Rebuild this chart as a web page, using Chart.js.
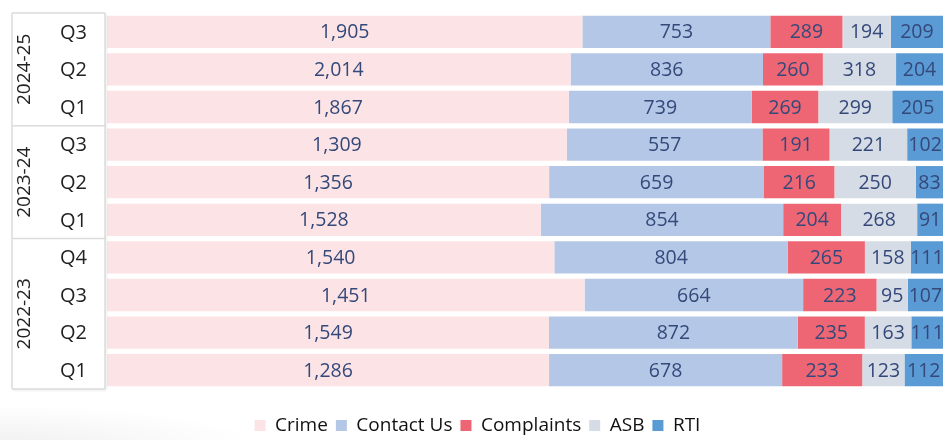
<!DOCTYPE html>
<html>
<head>
<meta charset="utf-8">
<script src="https://cdn.jsdelivr.net/npm/chart.js@4"></script>
<style>
  html, body { margin: 0; padding: 0; background: #fff; }
  #wrap {
    width: 948px; height: 440px; position: relative;
    background: radial-gradient(ellipse 260px 40px at 0px 445px, rgba(0,0,0,0.06), rgba(0,0,0,0) 100%), #fff;
  }
</style>
</head>
<body>
<div id="wrap"><canvas id="myChart"></canvas></div>
<script>
// quarters, top to bottom
const quarters = ['Q3', 'Q2', 'Q1', 'Q3', 'Q2', 'Q1', 'Q4', 'Q3', 'Q2', 'Q1']
const years = ['2024-25', '2023-24', '2022-23']
const yearSizes = [3, 3, 4]

const crime = [1905, 2014, 1867, 1309, 1356, 1528, 1540, 1451, 1549, 1286]
const contactUs = [753, 836, 739, 557, 659, 854, 804, 664, 872, 678]
const complaints = [289, 260, 269, 191, 216, 204, 265, 223, 235, 233]
const asb = [194, 318, 299, 221, 250, 268, 158, 95, 163, 123]
const rti = [209, 204, 205, 102, 83, 91, 111, 107, 111, 112]

const FONT = "'Open Sans', sans-serif"

const series = [
    { label: 'Crime', data: crime, color: '#fce4e6' },
    { label: 'Contact Us', data: contactUs, color: '#b4c7e7' },
    { label: 'Complaints', data: complaints, color: '#ee6673' },
    { label: 'ASB', data: asb, color: '#d6dce5' },
    { label: 'RTI', data: rti, color: '#5b9bd5' }
]

// row totals for the 100% stack
const totals = quarters.map((q, i) => series.reduce((s, d) => s + d.data[i], 0))

// draws the numbers in the middle of each segment
const valueLabels = {
    id: 'valueLabels',
    afterDatasetsDraw(chart) {
        const ctx = chart.ctx
        ctx.save()
        ctx.font = '19.5px ' + FONT
        ctx.fillStyle = '#34497a'
        ctx.textAlign = 'center'
        ctx.textBaseline = 'middle'
        chart.data.datasets.forEach((ds, di) => {
            const meta = chart.getDatasetMeta(di)
            meta.data.forEach((bar, i) => {
                const x = (bar.x + bar.base) / 2
                ctx.fillText(ds.raw[i].toLocaleString('en-GB'), x, bar.y + 1)
            })
        })
        ctx.restore()
    }
}

// box round the axis, quarter and rotated year labels
const yearGroups = {
    id: 'yearGroups',
    beforeInit(chart) {
        // pull the legend box a bit shorter so it sits lower
        const fit = chart.legend.fit
        chart.legend.fit = function () {
            fit.call(this)
            this.height -= 5
        }
    },
    afterDraw(chart) {
        const ctx = chart.ctx
        const y = chart.scales.y
        const area = chart.chartArea
        const left = 12
        const right = area.left - 2
        ctx.save()
        ctx.shadowColor = 'rgba(0,0,0,0.12)'
        ctx.shadowBlur = 3
        ctx.shadowOffsetX = 1
        ctx.shadowOffsetY = 1
        ctx.fillStyle = '#fff'
        ctx.fillRect(left, area.top, right - left, area.bottom - area.top)
        ctx.restore()

        ctx.save()
        ctx.strokeStyle = '#dcdcdc'
        ctx.lineWidth = 1.5
        ctx.beginPath()
        ctx.moveTo(left, area.top); ctx.lineTo(right, area.top)
        ctx.moveTo(left, area.bottom); ctx.lineTo(right, area.bottom)
        ctx.moveTo(left, area.top); ctx.lineTo(left, area.bottom)
        ctx.moveTo(right, area.top); ctx.lineTo(right, area.bottom)

        ctx.fillStyle = '#222'
        ctx.textBaseline = 'middle'
        ctx.font = '20px ' + FONT
        ctx.textAlign = 'right'
        quarters.forEach((q, i) => {
            ctx.fillText(q, 87, y.getPixelForValue(i) + 1)
        })

        ctx.font = '19px ' + FONT
        ctx.textAlign = 'center'
        let start = 0
        years.forEach((yr, k) => {
            const end = start + yearSizes[k] - 1
            const top = start === 0 ? area.top : (y.getPixelForValue(start - 1) + y.getPixelForValue(start)) / 2
            const bottom = end === quarters.length - 1 ? area.bottom : (y.getPixelForValue(end) + y.getPixelForValue(end + 1)) / 2
            if (end < quarters.length - 1) {
                ctx.moveTo(left, bottom); ctx.lineTo(right, bottom)
            }
            ctx.save()
            ctx.translate(25, (top + bottom) / 2)
            ctx.rotate(-Math.PI / 2)
            ctx.fillText(yr, 0, 0)
            ctx.restore()
            start = end + 1
        })
        ctx.stroke()
        ctx.restore()
    }
}

const ctx = document.getElementById('myChart')
new Chart(ctx, {
    type: 'bar',
    data: {
        labels: quarters,
        datasets: series.map(s => ({
            label: s.label,
            raw: s.data,
            data: s.data.map((v, i) => v / totals[i] * 100),
            backgroundColor: s.color,
            borderWidth: 0,
            barPercentage: 0.86,
            categoryPercentage: 1
        }))
    },
    options: {
        indexAxis: 'y',
        responsive: true,
        maintainAspectRatio: false,
        animation: false,
        layout: {
            padding: { left: 12, right: 5, top: 13, bottom: 0 }
        },
        scales: {
            x: {
                stacked: true,
                min: 0,
                max: 100,
                grid: { display: false, drawTicks: false },
                border: { display: false },
                ticks: { display: false },
                // empty band between bars and legend
                afterFit(scale) {
                    scale.height = 19
                }
            },
            y: {
                stacked: true,
                grid: { display: false, drawTicks: false },
                border: { display: false },
                ticks: { display: false },
                afterFit(scale) {
                    scale.width = 95
                }
            }
        },
        plugins: {
            legend: {
                position: 'bottom',
                labels: {
                    boxWidth: 11,
                    boxHeight: 11,
                    padding: 8,
                    color: '#111',
                    font: { family: FONT, size: 19 }
                }
            },
            tooltip: {
                callbacks: {
                    label: (c) => c.dataset.label + ': ' + c.dataset.raw[c.dataIndex].toLocaleString('en-GB')
                }
            }
        }
    },
    plugins: [valueLabels, yearGroups]
})
</script>
</body>
</html>
